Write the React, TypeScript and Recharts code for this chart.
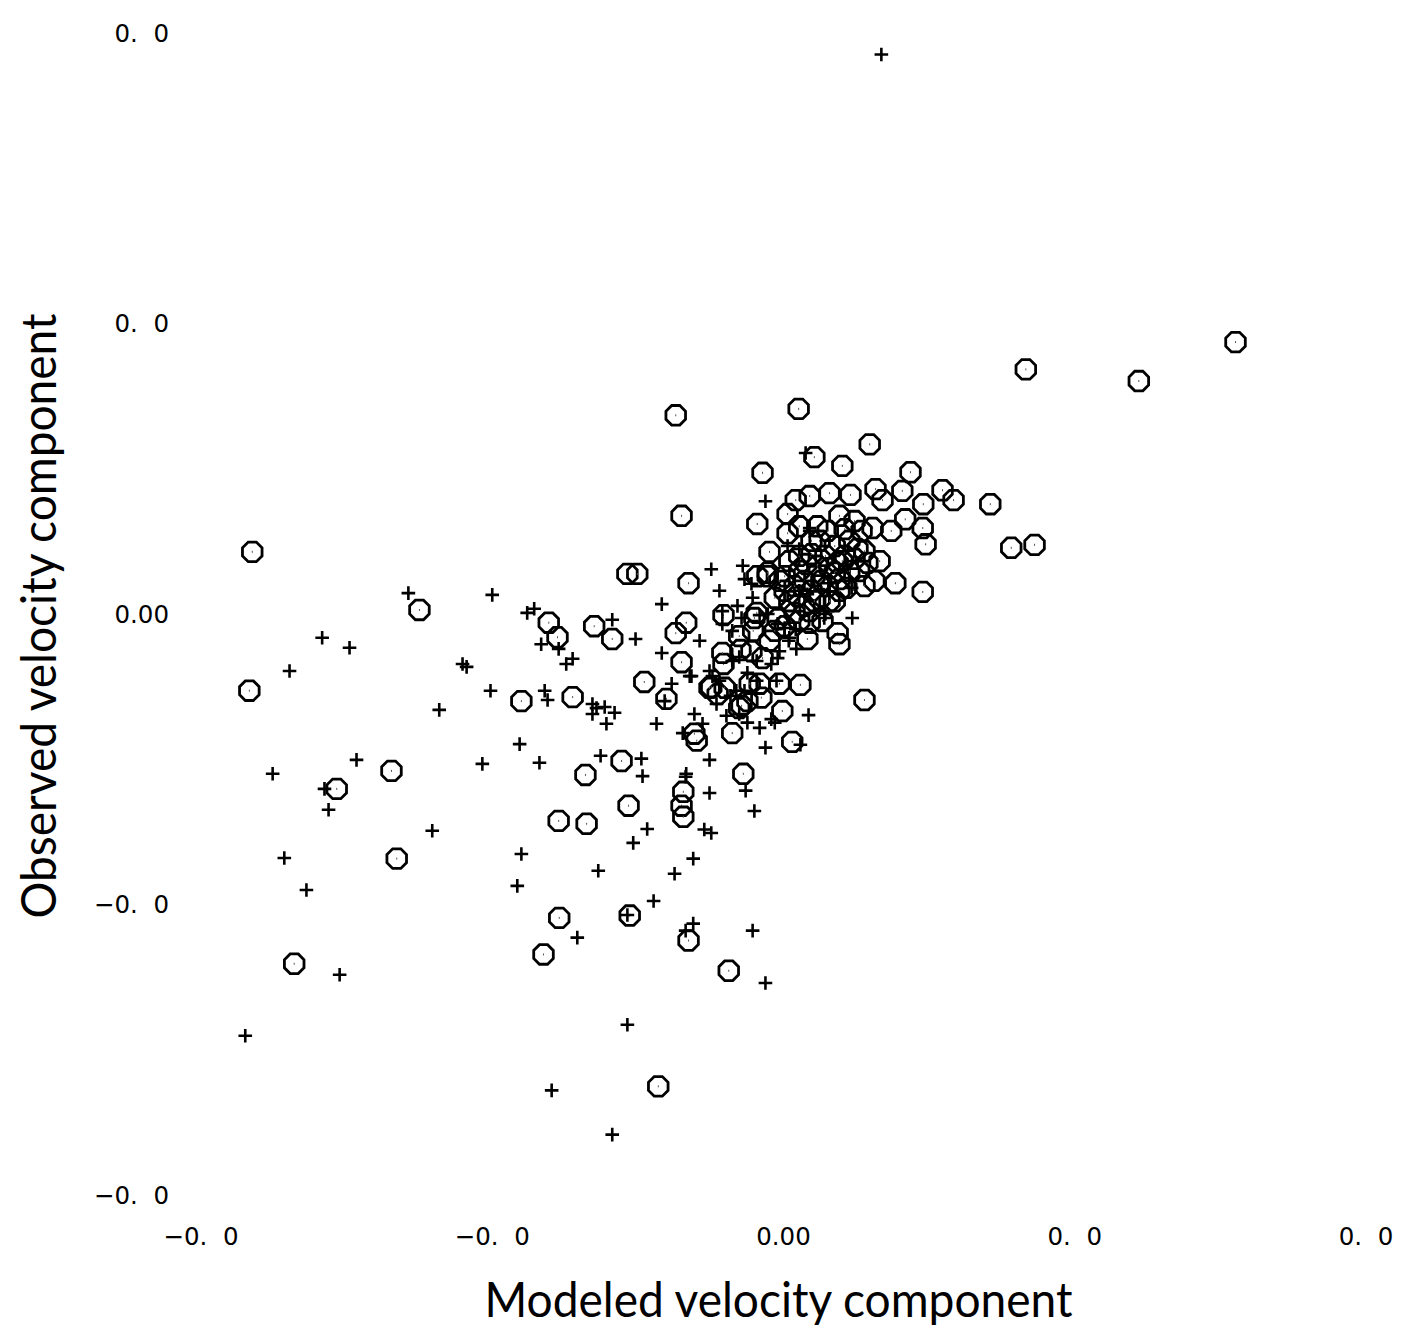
import React from 'react';
import { ScatterChart, Scatter, XAxis, YAxis } from 'recharts';

// Modeled (x) vs observed (y) velocity component, circle-marker series
const circlePoints: [number, number][] = [
  [0.0776,0.0468],[0.0416,0.0421],[0.0610,0.0401],[-0.0185,0.0342],[0.0026,0.0353],[0.0148,0.0292],[0.0053,0.0270],[-0.0036,0.0243],
  [0.0101,0.0255],[0.0218,0.0244],[0.0158,0.0215],[0.0204,0.0212],[0.0273,0.0213],[0.0292,0.0196],[0.0355,0.0189],[0.0170,0.0196],
  [0.0115,0.0205],[0.0079,0.0208],[0.0045,0.0203],[0.0021,0.0196],[0.0240,0.0189],[0.0209,0.0163],[0.0239,0.0148],[0.0244,0.0120],
  [-0.0175,0.0169],[0.0007,0.0172],[-0.0045,0.0155],[0.0391,0.0114],[0.0431,0.0119],[-0.0912,0.0107],[-0.0917,-0.0132],[-0.0268,0.0069],
  [-0.0251,0.0069],[-0.0163,0.0053],[0.0239,0.0038],[0.0192,0.0053],[0.0156,0.0057],[-0.0625,0.0007],[-0.0403,-0.0015],[-0.0388,-0.0040],
  [-0.0325,-0.0021],[-0.0294,-0.0043],[-0.0167,-0.0015],[-0.0185,-0.0033],[-0.0239,-0.0117],[-0.0450,-0.0150],[-0.0362,-0.0143],[-0.0175,-0.0083],
  [0.0139,-0.0148],[-0.0673,-0.0270],[-0.0767,-0.0301],[-0.0340,-0.0277],[-0.0278,-0.0253],[-0.0386,-0.0356],[-0.0338,-0.0361],[-0.0266,-0.0330],
  [-0.0175,-0.0330],[-0.0172,-0.0349],[-0.0172,-0.0306],[-0.0664,-0.0421],[-0.0385,-0.0523],[-0.0264,-0.0519],[-0.0163,-0.0562],[-0.0412,-0.0586],
  [-0.0840,-0.0602],[-0.0094,-0.0614],[-0.0215,-0.0813],[-0.0069,-0.0275],[0.0015,-0.0220],[-0.0088,-0.0205],[-0.0149,-0.0218],[-0.0153,-0.0206],
  [-0.0201,-0.0146],[-0.0113,-0.0138],[-0.0062,-0.0150],[-0.0002,-0.0167],[0.0029,-0.0122],[-0.0038,-0.0144],[-0.0041,-0.0120],[-0.0076,-0.0162],
  [-0.0124,-0.0126],[-0.0103,-0.0086],[-0.0055,-0.0064],[-0.0024,-0.0046],[-0.0010,-0.0009],[0.0041,-0.0043],[0.0093,-0.0033],[0.0096,-0.0052],
  [-0.0103,-0.0002],[-0.0052,-0.0029],[-0.0074,-0.0062],[-0.0046,0.0002],[-0.0024,0.0107],[-0.0045,0.0065],[-0.0027,0.0065],
  [-0.0076,-0.0038],[-0.0105,-0.0067],[-0.0036,-0.0076],[-0.0101,-0.0127],[-0.0058,-0.0120],[-0.0007,-0.0120],[-0.0072,-0.0158],[-0.0127,-0.0127],
  [0.0096,0.0169],[0.0153,0.0148],[0.0185,0.0143],[0.0058,0.0151],[0.0007,0.0139],[0.0144,0.0088],[0.0079,0.0079],[0.0039,0.0086],
  [0.0096,0.0060],[0.0108,0.0045],[-0.0050,-0.0007],[-0.0027,0.0071],
  [0.0062,0.0126],[0.0088,0.0117],[0.0113,0.0126],[0.0048,0.0103],[0.0072,0.0100],[0.0105,0.0100],[0.0127,0.0112],[0.0027,0.0074],
  [0.0053,0.0065],[0.0076,0.0048],[0.0048,0.0040],[0.0024,0.0031],[0.0010,0.0022],[0.0036,0.0014],[0.0062,0.0026],[0.0088,0.0022],
  [0.0019,0.0002],[0.0002,0.0040],[0.0130,0.0074],[0.0113,0.0074],[0.0093,0.0088],[0.0139,0.0048],[-0.0015,0.0028],[-0.0007,0.0057],
  [0.0067,-0.0012],[0.0045,-0.0015],
  [0.0027,0.0151],[0.0048,0.0126],[0.0076,0.0143],[0.0105,0.0146],[0.0122,0.0160],[0.0010,0.0091],[0.0036,0.0057],[0.0058,0.0083],
  [0.0065,0.0057],[0.0088,0.0071],[0.0101,0.0091],[0.0122,0.0095],[0.0027,0.0100],[0.0002,0.0065],[0.0019,0.0048],[0.0045,0.0005],
  [0.0096,0.0040],[0.0079,0.0022],[0.0053,0.0022],[0.0027,-0.0012],[0.0002,-0.0021],[-0.0015,-0.0029],[0.0139,0.0108],[0.0165,0.0091],
  [0.0134,0.0143],
];

// plus-marker series
const plusPoints: [number, number][] = [
  [0.0168,0.0963],[0.0038,0.0277],[-0.0031,0.0194],[-0.0124,0.0077],[-0.0067,0.0060],[-0.0209,0.0017],[-0.0294,-0.0010],[-0.0500,0.0033],
  [-0.0644,0.0036],[-0.0440,0.0002],[-0.0428,0.0009],[-0.0792,-0.0041],[-0.0745,-0.0058],[-0.0848,-0.0098],[-0.0551,-0.0086],[-0.0544,-0.0091],
  [-0.0416,-0.0052],[-0.0386,-0.0060],[-0.0373,-0.0086],[-0.0362,-0.0077],[-0.0503,-0.0132],[-0.0591,-0.0165],[-0.0410,-0.0132],[-0.0405,-0.0148],
  [-0.0328,-0.0155],[-0.0321,-0.0162],[-0.0307,-0.0160],[-0.0290,-0.0170],[-0.0304,-0.0189],[-0.0328,-0.0172],[-0.0453,-0.0224],[-0.0517,-0.0258],
  [-0.0419,-0.0256],[-0.0733,-0.0251],[-0.0877,-0.0275],[-0.0788,-0.0301],[-0.0781,-0.0337],[-0.0603,-0.0373],[-0.0450,-0.0413],[-0.0314,-0.0244],
  [-0.0244,-0.0249],[-0.0204,-0.0150],[-0.0218,-0.0189],[-0.0209,-0.0067],[-0.0242,-0.0279],[-0.0318,-0.0442],[-0.0258,-0.0394],[-0.0234,-0.0370],
  [-0.0457,-0.0468],[-0.0857,-0.0420],[-0.0819,-0.0475],[-0.0168,-0.0280],[-0.0155,-0.0421],[-0.0187,-0.0447],[-0.0223,-0.0494],[-0.0268,-0.0518],
  [-0.0155,-0.0533],[-0.0168,-0.0545],[-0.0053,-0.0545],[-0.0354,-0.0557],[-0.0762,-0.0621],[-0.0031,-0.0635],[-0.0268,-0.0707],[-0.0924,-0.0726],
  [-0.0398,-0.0820],[-0.0294,-0.0896],[-0.0127,-0.0308],[-0.0136,-0.0371],[-0.0124,-0.0377],[-0.0050,-0.0339],[-0.0065,-0.0304],[-0.0031,-0.0230],
  [0.0029,-0.0225],[0.0043,-0.0174],[-0.0021,-0.0181],[-0.0067,-0.0132],[-0.0091,-0.0141],[-0.0122,-0.0107],[-0.0153,-0.0172],[-0.0139,-0.0189],
  [-0.0127,-0.0251],[-0.0173,-0.0205],[-0.0167,-0.0275],[-0.0115,-0.0155],[-0.0161,-0.0107],[-0.0192,-0.0120],[-0.0254,-0.0043],[0.0072,0.0000],
  [0.0117,0.0045],[0.0077,0.0053],[0.0009,-0.0046],[0.0021,-0.0026],[-0.0007,-0.0064],[-0.0041,-0.0002],[-0.0072,-0.0007],[-0.0088,-0.0029],
  [-0.0076,-0.0074],[-0.0105,0.0005],[0.0041,0.0034],[0.0027,0.0040],
  [-0.0079,0.0014],[-0.0027,0.0000],[-0.0105,-0.0017],[-0.0053,0.0028],[-0.0010,-0.0017],[0.0002,-0.0024],[0.0010,-0.0041],[0.0022,-0.0060],
  [-0.0010,-0.0076],[-0.0021,-0.0086],[-0.0046,-0.0081],[-0.0062,-0.0101],[-0.0088,-0.0081],[-0.0127,-0.0098],[-0.0110,-0.0115],[-0.0081,-0.0132],
  [-0.0046,-0.0115],[-0.0012,-0.0115],[-0.0098,-0.0175],[-0.0076,-0.0172],[-0.0062,-0.0187],[-0.0041,-0.0196],[-0.0015,-0.0187],[0.0070,-0.0007],
  [0.0118,-0.0007],[-0.0144,-0.0046],[-0.0158,-0.0107],
  [0.0045,0.0143],[0.0027,0.0112],[-0.0070,0.0083],[-0.0055,0.0052],[-0.0110,0.0040],[0.0007,0.0117],[0.0045,0.0148],
];

const axisTicks = [-0.1, -0.05, 0, 0.05, 0.1];
const tickLabels = ['\u22120.\u20070', '\u22120.\u20070', '0.00', '0.\u20070', '0.\u20070'];
const xTitle = 'Modeled velocity component';
const yTitle = 'Observed velocity component';

const circleData = circlePoints.map(([x, y]) => ({ x, y }));
const plusData = plusPoints.map(([x, y]) => ({ x, y }));

const fmt = (v: number) => {
  const i = axisTicks.findIndex((t) => Math.abs(t - v) < 1e-9);
  return i >= 0 ? tickLabels[i] : String(v);
};

const Octagon = (props: any) => {
  const { cx, cy } = props;
  if (cx == null || cy == null) return null;
  const r = 10.6;
  const pts: string[] = [];
  for (let k = 0; k < 8; k++) {
    const a = Math.PI / 8 + (k * Math.PI) / 4;
    pts.push(`${cx + r * Math.cos(a)},${cy + r * Math.sin(a)}`);
  }
  return (
    <g>
      <polygon points={pts.join(' ')} fill="none" stroke="#000" strokeWidth={2.8} />
      <rect x={cx - 0.5} y={cy - 1} width={1} height={2} fill="#555" />
    </g>
  );
};

const Plus = (props: any) => {
  const { cx, cy } = props;
  if (cx == null || cy == null) return null;
  const h = 6.8;
  return (
    <path
      d={`M${cx - h},${cy}H${cx + h}M${cx},${cy - h}V${cy + h}`}
      stroke="#000"
      strokeWidth={2.6}
      fill="none"
    />
  );
};

const tickStyle = { fontFamily: 'DejaVu Sans', fontSize: 24.5, fill: '#000' };

export default function App() {
  return (
    <div style={{ position: 'absolute', left: 0, top: 0, width: 1405, height: 1332, background: '#fff' }}>
      <ScatterChart width={1405} height={1332} margin={{ top: 33, right: 39, bottom: 0, left: 0 }}>
        <XAxis
          type="number"
          dataKey="x"
          domain={[-0.1, 0.1]}
          ticks={axisTicks}
          tickFormatter={fmt}
          axisLine={false}
          tickLine={false}
          tickSize={0}
          tickMargin={33}
          height={137}
          tick={tickStyle}
          interval={0}
          label={{
            content: (p: any) => {
              const vb = p.viewBox || {};
              return (
                <text
                  x={vb.x + vb.width / 2 - 5}
                  y={vb.y + 122}
                  textAnchor="middle"
                  fontFamily="Lato"
                  fontSize={48}
                  fill="#000"
                  textLength={588}
                  lengthAdjust="spacingAndGlyphs"
                >
                  {xTitle}
                </text>
              );
            },
          }}
        />
        <YAxis
          type="number"
          dataKey="y"
          domain={[-0.1, 0.1]}
          ticks={axisTicks}
          tickFormatter={fmt}
          axisLine={false}
          tickLine={false}
          tickSize={0}
          tickMargin={32}
          width={201}
          tick={tickStyle}
          interval={0}
          label={{
            content: (p: any) => {
              const vb = p.viewBox || {};
              const cx = 56;
              const cy = vb.y + vb.height / 2 + 2;
              return (
                <text
                  x={cx}
                  y={cy}
                  transform={`rotate(-90 ${cx} ${cy})`}
                  textAnchor="middle"
                  fontFamily="Lato"
                  fontSize={48}
                  fill="#000"
                  textLength={605}
                  lengthAdjust="spacingAndGlyphs"
                >
                  {yTitle}
                </text>
              );
            },
          }}
        />
        <Scatter data={circleData} shape={Octagon} isAnimationActive={false} />
        <Scatter data={plusData} shape={Plus} isAnimationActive={false} />
      </ScatterChart>
    </div>
  );
}
